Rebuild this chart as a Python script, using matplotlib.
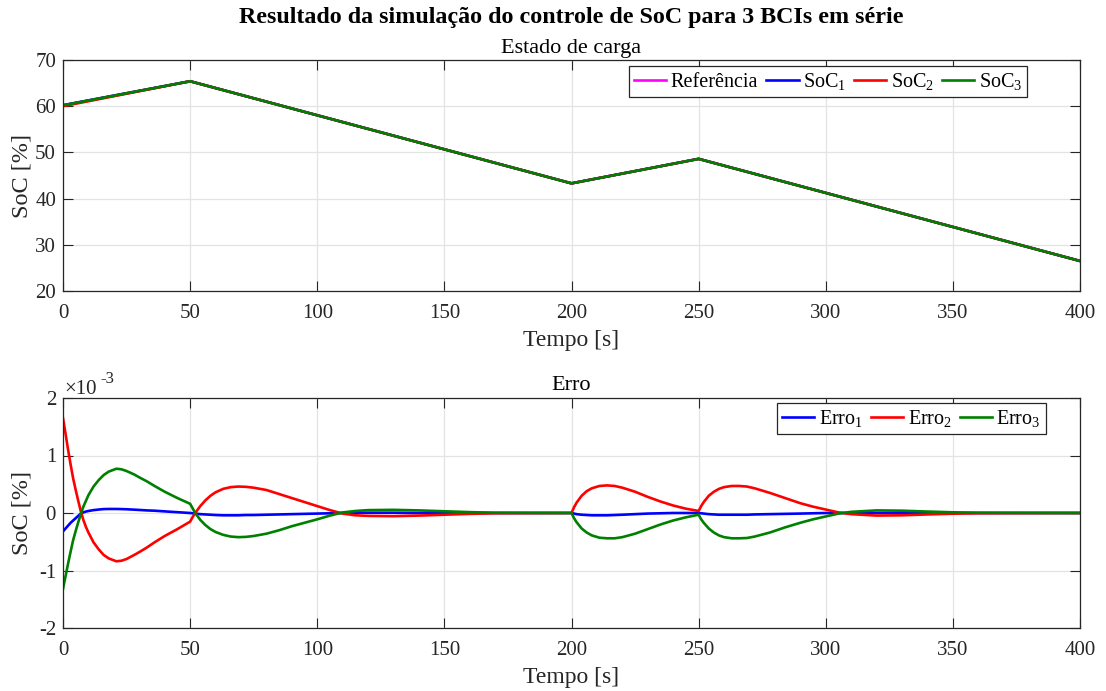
import matplotlib
matplotlib.use("Agg")
import matplotlib.pyplot as plt

plt.rcParams["font.family"] = ["Liberation Serif", "DejaVu Serif"]
plt.rcParams["mathtext.fontset"] = "custom"
plt.rcParams["mathtext.rm"] = "Liberation Serif"
plt.rcParams["mathtext.it"] = "Liberation Serif:italic"
plt.rcParams["mathtext.bf"] = "Liberation Serif:bold"
plt.rcParams["axes.unicode_minus"] = False

# --- State of charge (%) ---
t_soc = [0, 50, 200, 250, 400]
soc_ref = [60.2, 65.4, 43.3, 48.6, 26.5]
soc_1 = [60.2, 65.4, 43.3, 48.6, 26.5]
soc_2 = [60.0, 65.4, 43.3, 48.6, 26.5]
soc_3 = [60.2, 65.4, 43.3, 48.6, 26.5]

# --- Tracking error (x1e-3 %) ---
t_err = ([0, 1, 2, 3, 4, 5, 6, 7, 8, 9, 10, 12, 14, 16, 18, 21, 23, 25, 28, 30, 33, 36, 40, 45]
         + [50, 51, 52, 54, 56, 58, 60, 63, 66, 69, 72, 75, 80, 85, 90, 95, 100, 105, 110,
            115, 120, 130, 140, 150, 160, 170]
         + [200, 201, 202, 204, 206, 208, 211, 214, 217, 220, 225, 230, 235, 240, 245]
         + [250, 251, 252, 254, 256, 258, 260, 263, 266, 269, 272, 278, 284, 290, 295, 300,
            305, 310, 320, 330, 340, 350, 360, 400])
erro_1 = ([-0.32, -0.27, -0.22, -0.17, -0.13, -0.09, -0.05, -0.01, 0.01, 0.025, 0.035, 0.05,
           0.06, 0.068, 0.07, 0.07, 0.068, 0.065, 0.058, 0.053, 0.045, 0.04, 0.028, 0.014]
          + [0.0, -0.005, -0.01, -0.02, -0.025, -0.03, -0.035, -0.04, -0.04, -0.04, -0.035,
             -0.035, -0.03, -0.025, -0.02, -0.015, -0.01, -0.005, 0.0, 0.005, 0.005, 0.005,
             0.0, 0.0, 0.0, 0.0]
          + [0.0, -0.01, -0.02, -0.03, -0.035, -0.04, -0.04, -0.04, -0.035, -0.03, -0.02,
             -0.01, -0.005, 0.0, 0.0]
          + [0.0, -0.005, -0.01, -0.02, -0.025, -0.03, -0.03, -0.03, -0.03, -0.03, -0.025,
             -0.02, -0.015, -0.01, -0.005, 0.0, 0.0, 0.0, 0.0, 0.0, 0.0, 0.0, 0.0, 0.0])
erro_2 = ([1.65, 1.38, 1.10, 0.84, 0.60, 0.40, 0.21, 0.03, -0.12, -0.24, -0.34, -0.51, -0.63,
           -0.73, -0.79, -0.84, -0.83, -0.80, -0.73, -0.68, -0.60, -0.51, -0.40, -0.28]
          + [-0.15, -0.07, 0.0, 0.12, 0.22, 0.30, 0.36, 0.42, 0.45, 0.46, 0.455, 0.44, 0.40,
             0.33, 0.26, 0.19, 0.12, 0.05, -0.01, -0.04, -0.05, -0.055, -0.045, -0.03,
             -0.015, -0.005]
          + [0.0, 0.10, 0.18, 0.30, 0.38, 0.43, 0.47, 0.48, 0.47, 0.44, 0.37, 0.28, 0.20,
             0.13, 0.075]
          + [0.035, 0.12, 0.19, 0.30, 0.37, 0.42, 0.45, 0.47, 0.47, 0.46, 0.43, 0.35, 0.26,
             0.17, 0.11, 0.06, 0.01, -0.02, -0.045, -0.04, -0.025, -0.012, -0.005, 0.0])
erro_3 = ([-1.32, -1.10, -0.88, -0.67, -0.47, -0.31, -0.16, -0.02, 0.11, 0.21, 0.31, 0.46,
           0.57, 0.66, 0.72, 0.77, 0.76, 0.73, 0.67, 0.62, 0.55, 0.47, 0.37, 0.26]
          + [0.16, 0.08, 0.0, -0.12, -0.21, -0.28, -0.33, -0.38, -0.41, -0.42, -0.415, -0.40,
             -0.36, -0.30, -0.23, -0.17, -0.11, -0.045, 0.01, 0.035, 0.05, 0.055, 0.045,
             0.03, 0.015, 0.005]
          + [0.0, -0.09, -0.16, -0.27, -0.34, -0.39, -0.43, -0.44, -0.44, -0.42, -0.36,
             -0.28, -0.20, -0.13, -0.075]
          + [-0.03, -0.11, -0.17, -0.27, -0.34, -0.39, -0.42, -0.44, -0.44, -0.435, -0.41,
             -0.34, -0.25, -0.17, -0.11, -0.06, -0.01, 0.02, 0.045, 0.04, 0.025, 0.012,
             0.005, 0.0])

x_ticks = [0, 50, 100, 150, 200, 250, 300, 350, 400]
soc_ticks = [20, 30, 40, 50, 60, 70]
err_ticks = [-2, -1, 0, 1, 2]

W, H = 1106, 691
fig = plt.figure(figsize=(W / 100, H / 100), dpi=100)
ax_c = "#262626"

def frame(l, t, r, b):
    return [l / W, 1 - b / H, (r - l) / W, (b - t) / H]

ax1 = fig.add_axes(frame(63, 60, 1080, 291))
ax2 = fig.add_axes(frame(63, 398, 1080, 628))

def style(ax):
    ax.set_xlim(0, 400)
    ax.set_xticks(x_ticks)
    ax.grid(True, color="#e3e3e3", linewidth=0.9)
    ax.set_axisbelow(True)
    ax.tick_params(direction="in", length=7.5, width=0.8, top=True, right=True,
                   labelsize=15, colors=ax_c)
    ax.tick_params(axis="x", pad=9.5)
    ax.tick_params(axis="y", pad=5)
    for s in ax.spines.values():
        s.set_color(ax_c)
        s.set_linewidth(0.9)
    ax.set_xlabel("Tempo [s]", fontsize=17, color=ax_c, labelpad=5)
    ax.set_ylabel("SoC [%]", fontsize=17.5, color=ax_c)
    ax.yaxis.set_label_coords(-0.030, 0.5)

lw = 1.9
ax1.plot(t_soc, soc_ref, color="magenta", lw=lw, label="Referência")
ax1.plot(t_soc, soc_1, color="blue", lw=lw, label="SoC$_{\\mathregular{1}}$")
ax1.plot(t_soc, soc_2, color="red", lw=lw, label="SoC$_{\\mathregular{2}}$")
ax1.plot(t_soc, soc_3, color="green", lw=lw, label="SoC$_{\\mathregular{3}}$")
ax1.set_ylim(20, 70)
ax1.set_yticks(soc_ticks)
style(ax1)
ax1.set_title("Estado de carga", fontsize=16, color="black", pad=5)

ax2.plot(t_err, erro_1, color="blue", lw=lw, label="Erro$_{\\mathregular{1}}$")
ax2.plot(t_err, erro_2, color="red", lw=lw, label="Erro$_{\\mathregular{2}}$")
ax2.plot(t_err, erro_3, color="green", lw=lw, label="Erro$_{\\mathregular{3}}$")
ax2.set_ylim(-2, 2)
ax2.set_yticks(err_ticks)
style(ax2)
ax2.set_title("Erro", fontsize=16, color="black", pad=6)

# exponent label of the error axis
fig.text(64 / W, 1 - 394 / H, "×10", fontsize=15, color=ax_c, ha="left", va="baseline")
fig.text(100 / W, 1 - 383 / H, "-3", fontsize=12, color=ax_c, ha="left", va="baseline")

leg_kw = dict(ncol=4, fontsize=14.5, frameon=True, fancybox=False, framealpha=1,
              edgecolor=ax_c, handlelength=1.6, handletextpad=0.22,
              columnspacing=0.4, borderpad=0.25, borderaxespad=0.0)
l1 = ax1.legend(loc="upper right", bbox_to_anchor=(0.948, 0.974), **leg_kw)
l1.get_frame().set_linewidth(0.9)
leg_kw["ncol"] = 3
l2 = ax2.legend(loc="upper right", bbox_to_anchor=(0.9666, 0.978), **leg_kw)
l2.get_frame().set_linewidth(0.9)

fig.suptitle("Resultado da simulação do controle de SoC para 3 BCIs em série",
             fontsize=17.3, fontweight="bold", x=571.5 / W, y=1 - 17 / H, va="center")

fig.savefig("out.png", dpi=100)
